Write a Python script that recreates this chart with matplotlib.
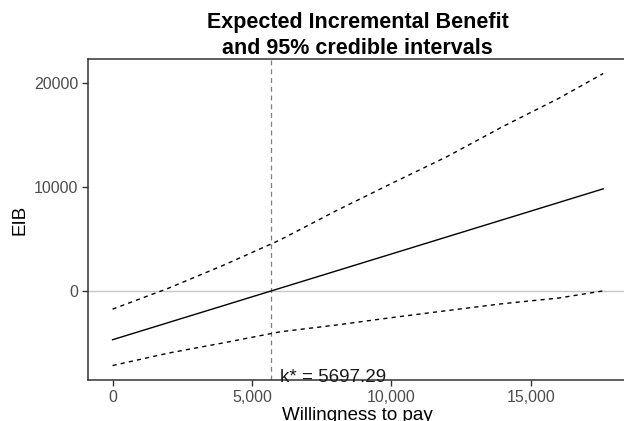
import matplotlib
matplotlib.use("Agg")
import matplotlib.pyplot as plt
from matplotlib.ticker import FuncFormatter

plt.rcParams['font.family'] = ['Liberation Sans', 'DejaVu Sans']

# willingness-to-pay grid and EIB estimates
wtp = [0, 2000, 4000, 6000, 8000, 10000, 12000, 14000, 16000, 17600]
eib = [-4710, -3056, -1403, 251, 1904, 3558, 5212, 6865, 8519, 9842]
eib_upper = [-1760, 250, 2500, 4900, 7700, 10350, 12950, 15850, 18560, 20960]
eib_lower = [-7200, -6000, -5000, -3950, -3300, -2580, -1900, -1230, -690, 0]
k_star = 5697.29

fig = plt.figure(figsize=(6.24, 4.21), dpi=100)
ax = fig.add_axes([0.141, 0.097, 0.865, 0.763])

ax.axhline(0, color='#c8c8c8', lw=1.0, zorder=1)
ax.axvline(k_star, color='#7f7f7f', lw=0.9, ls=(0, (4, 3)), zorder=1)

ax.plot(wtp, eib, color='black', lw=1.0, zorder=3)
ax.plot(wtp, eib_upper, color='black', lw=1.0, ls=(0, (3, 3)), zorder=3)
ax.plot(wtp, eib_lower, color='black', lw=1.0, ls=(0, (3, 3)), zorder=3)

ax.text(k_star + 300, -8350, f"k* = {k_star:.2f}", fontsize=13.5,
        color='#1a1a1a', ha='left', va='center')

rng = wtp[-1] - wtp[0]
ax.set_xlim(wtp[0] - 0.05 * rng, wtp[-1] + 0.05 * rng)
lo = min(eib_lower)
hi = max(eib_upper)
ax.set_ylim(lo - 0.05 * (hi - lo), hi + 0.05 * (hi - lo))

ax.set_xticks([0, 5000, 10000, 15000])
ax.set_yticks([0, 10000, 20000])
ax.xaxis.set_major_formatter(FuncFormatter(lambda v, p: f"{int(v):,}"))
ax.yaxis.set_major_formatter(FuncFormatter(lambda v, p: f"{int(v)}"))

for s in ax.spines.values():
    s.set_color('#333333')
    s.set_linewidth(1.1)

ax.tick_params(axis='both', direction='out', length=4, width=1.0,
               color='#333333', labelcolor='#4d4d4d', labelsize=11.5, pad=3)

ax.set_xlabel("Willingness to pay", fontsize=13.5, color='black', labelpad=1.5)
ax.set_ylabel("EIB", fontsize=13.5, color='black', labelpad=4)

ax.set_title("Expected Incremental Benefit\nand 95% credible intervals",
             fontsize=15.5, fontweight='bold', linespacing=1.3, pad=2)

fig.savefig("out.png", dpi=100)
